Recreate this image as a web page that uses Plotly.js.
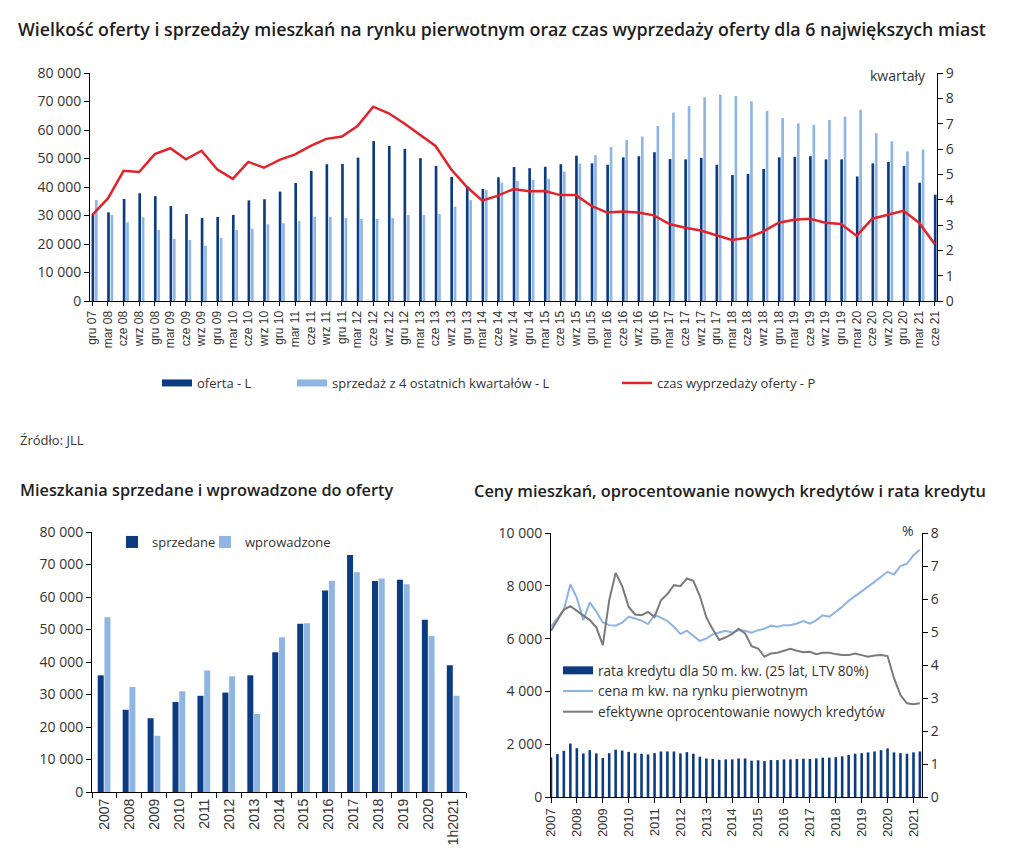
<!DOCTYPE html>
<html><head><meta charset="utf-8">
<script src="https://cdn.plot.ly/plotly-3.0.1.min.js"></script>
<style>html,body{margin:0;padding:0;background:#fff}#chart{width:1021px;height:853px}</style>
</head><body><div id="chart"></div>
<script>
// ---------- Top chart: offer, sales (left) and months to sell (right) ----------
const quarterLabels = ['gru 07','mar 08','cze 08','wrz 08','gru 08','mar 09','cze 09','wrz 09','gru 09','mar 10','cze 10','wrz 10','gru 10','mar 11','cze 11','wrz 11','gru 11','mar 12','cze 12','wrz 12','gru 12','mar 13','cze 13','wrz 13','gru 13','mar 14','cze 14','wrz 14','gru 14','mar 15','cze 15','wrz 15','gru 15','mar 16','cze 16','wrz 16','gru 16','mar 17','cze 17','wrz 17','gru 17','mar 18','cze 18','wrz 18','gru 18','mar 19','cze 19','wrz 19','gru 19','mar 20','cze 20','wrz 20','gru 20','mar 21','cze 21'];
const oferta = [30500,31100,35800,37800,36800,33300,30500,29100,29500,30200,35300,35700,38400,41400,45600,48000,48100,50300,56100,54400,53400,50100,47400,43500,40400,39300,43400,47000,46600,47100,48000,51000,48300,47800,50400,50800,52200,49800,49700,50200,47800,44200,44600,46300,50400,50600,50800,49700,49700,43700,48300,48800,47400,41500,37300];
const sprzedaz4k = [35400,30200,27600,29400,24900,21800,21400,19400,22200,24900,25400,26900,27300,28100,29500,29500,29100,28800,28800,29100,30200,30200,30500,33100,35400,38900,41500,42100,42500,42900,45400,48200,51200,54000,56500,57700,61400,66100,68400,71500,72400,71900,70100,66700,64200,62300,61800,63500,64700,67100,58900,56100,52500,53100,65600];
const czasWyprzedazy = [3.40,4.05,5.14,5.09,5.80,6.03,5.59,5.93,5.20,4.82,5.49,5.26,5.57,5.79,6.12,6.40,6.49,6.91,7.67,7.41,7.01,6.58,6.12,5.20,4.51,3.96,4.16,4.42,4.33,4.34,4.18,4.18,3.75,3.49,3.53,3.49,3.38,3.04,2.89,2.78,2.61,2.41,2.50,2.74,3.09,3.21,3.25,3.09,3.04,2.57,3.25,3.42,3.56,3.09,2.25];

// ---------- Bottom-left: sold and launched flats per year ----------
const years = ['2007','2008','2009','2010','2011','2012','2013','2014','2015','2016','2017','2018','2019','2020','1h2021'];
const sprzedane = [35900,25300,22700,27700,29600,30600,35900,43000,51800,62000,72900,64900,65300,53000,39000];
const wprowadzone = [53800,32300,17300,31000,37400,35600,24000,47600,51900,65000,67600,65700,63900,48000,29600];

// ---------- Bottom-right: quarterly instalment, price per m2, interest rate ----------
const firstYear = 2007, nQuarters = 58;
const quarterDates = [];
for (let i = 0; i < nQuarters; i++) {
  const y = firstYear + Math.floor(i / 4), m = 1 + 3 * (i % 4);
  quarterDates.push(y + '-' + String(m).padStart(2, '0') + '-01');
}
const rataKredytu = [1500,1625,1750,2025,1850,1650,1775,1650,1475,1660,1790,1760,1710,1660,1640,1610,1660,1725,1725,1725,1650,1700,1640,1525,1460,1440,1410,1425,1425,1460,1460,1375,1390,1360,1400,1400,1425,1425,1440,1450,1440,1460,1490,1490,1510,1540,1590,1640,1660,1690,1725,1775,1840,1690,1660,1640,1690,1725];
const cenaM2 = [6450,6760,7080,8060,7540,6700,7370,7020,6610,6510,6490,6600,6830,6760,6680,6550,6890,6790,6660,6450,6170,6300,6100,5910,6010,6160,6230,6300,6220,6320,6300,6220,6320,6370,6490,6450,6510,6510,6570,6660,6570,6700,6880,6830,7020,7200,7430,7610,7770,7960,8150,8340,8530,8430,8750,8840,9160,9370];
const oprocentowanie = [5.04,5.36,5.68,5.78,5.64,5.51,5.36,5.14,4.60,5.96,6.79,6.39,5.76,5.53,5.51,5.61,5.46,5.96,6.15,6.42,6.39,6.62,6.55,6.09,5.44,5.08,4.76,4.84,4.94,5.10,4.96,4.57,4.50,4.25,4.35,4.37,4.42,4.49,4.43,4.39,4.40,4.33,4.37,4.37,4.33,4.30,4.30,4.35,4.30,4.25,4.29,4.30,4.27,3.60,3.09,2.84,2.81,2.84];

// ---------- styling ----------
const W = 1021, H = 853;
const fx = v => v / W, fy = v => 1 - v / H;
const NAVY = '#0b3b80', LIGHT = '#8fb5e3', RED = '#e2232c', GREY = '#7a7a7a', PRICE = '#8db4e2';
const TXT = '#333333';
const FONT = 'Open Sans, Noto Sans, sans-serif';
const ARIAL = 'Liberation Sans, Arial, sans-serif';

const traces = [
  // top
  {type:'bar', name:'oferta - L', x:quarterLabels, y:oferta, xaxis:'x', yaxis:'y', marker:{color:NAVY}, width:0.17, offset:-0.05, showlegend:false, hoverinfo:'y'},
  {type:'bar', name:'sprzedaż z 4 ostatnich kwartałów - L', x:quarterLabels, y:sprzedaz4k, xaxis:'x', yaxis:'y', marker:{color:LIGHT}, width:0.17, offset:0.17, showlegend:false},
  {type:'scatter', mode:'lines', name:'oferta - L', x:[null], y:[null], xaxis:'x', yaxis:'y', line:{color:NAVY, width:7}, legend:'legend', legendwidth:90, hoverinfo:'skip'},
  {type:'scatter', mode:'lines', name:'sprzedaż z 4 ostatnich kwartałów - L', x:[null], y:[null], xaxis:'x', yaxis:'y', line:{color:LIGHT, width:7}, legend:'legend', legendwidth:280, hoverinfo:'skip'},
  {type:'scatter', mode:'lines', name:'czas wyprzedaży oferty - P', x:quarterLabels, y:czasWyprzedazy, xaxis:'x', yaxis:'y2', line:{color:RED, width:2.5}, legend:'legend'},
  // bottom-left
  {type:'bar', name:'sprzedane', x:years, y:sprzedane, xaxis:'x2', yaxis:'y3', marker:{color:NAVY}, width:0.24, offset:-0.27, legend:'legend2', legendwidth:48},
  {type:'bar', name:'wprowadzone', x:years, y:wprowadzone, xaxis:'x2', yaxis:'y3', marker:{color:LIGHT}, width:0.24, offset:0.0, legend:'legend2'},
  // bottom-right
  {type:'bar', name:'rata kredytu dla 50 m. kw. (25 lat, LTV 80%)', x:quarterDates, y:rataKredytu, xaxis:'x3', yaxis:'y4', marker:{color:NAVY}, width:0.1*365.25*86400000, showlegend:false},
  {type:'scatter', mode:'lines', name:'rata kredytu dla 50 m. kw. (25 lat, LTV 80%)', x:[null], y:[null], xaxis:'x3', yaxis:'y4', line:{color:NAVY, width:8}, legend:'legend3', hoverinfo:'skip'},
  {type:'scatter', mode:'lines', name:'cena m kw. na rynku pierwotnym', x:quarterDates, y:cenaM2, xaxis:'x3', yaxis:'y4', line:{color:PRICE, width:2}, legend:'legend3'},
  {type:'scatter', mode:'lines', name:'efektywne oprocentowanie nowych kredytów', x:quarterDates, y:oprocentowanie, xaxis:'x3', yaxis:'y5', line:{color:GREY, width:2}, legend:'legend3'}
];

const axisBase = {showline:true, linecolor:'#000', linewidth:1, ticks:'outside', ticklen:5, tickcolor:'#000', showgrid:false, zeroline:false, fixedrange:true};
const legendBase = {bgcolor:'rgba(0,0,0,0)', font:{family:FONT, size:13, color:TXT}, xref:'paper', yref:'paper', xanchor:'left'};

const layout = {
  width:W, height:H, autosize:false,
  margin:{l:0, r:0, t:0, b:0},
  paper_bgcolor:'#fff', plot_bgcolor:'rgba(0,0,0,0)',
  font:{family:FONT, size:14, color:TXT},
  separators:', ',
  barmode:'overlay',
  title:{text:'Wielkość oferty i sprzedaży mieszkań na rynku pierwotnym oraz czas wyprzedaży oferty dla 6 największych miast',
         x:fx(18), xanchor:'left', xref:'paper', y:fy(30), yanchor:'middle', yref:'paper',
         font:{family:FONT, size:17.8, weight:600, color:'#1e1e1e'}},
  // top
  xaxis:Object.assign({}, axisBase, {domain:[fx(90), fx(937)], anchor:'y', type:'category', range:[-0.15, 54.15],
         tickmode:'array', tickvals:quarterLabels, ticktext:quarterLabels, tickangle:-90, ticklen:4,
         tickfont:{family:ARIAL, size:12, color:TXT}}),
  yaxis:Object.assign({}, axisBase, {domain:[fy(301), fy(73)], anchor:'x', range:[0, 80000], dtick:10000, tickformat:',d'}),
  yaxis2:Object.assign({}, axisBase, {overlaying:'y', side:'right', anchor:'x', range:[0, 9], dtick:1, tickformat:'d'}),
  // bottom-left
  xaxis2:Object.assign({}, axisBase, {domain:[fx(92), fx(466)], anchor:'y3', type:'category', range:[-0.5, 14.5],
         tickson:'boundaries', tickangle:-90, tickfont:{family:ARIAL, size:14, color:TXT}}),
  yaxis3:Object.assign({}, axisBase, {domain:[fy(792), fy(532)], anchor:'x2', range:[0, 80000], dtick:10000, tickformat:',d'}),
  // bottom-right
  xaxis3:Object.assign({}, axisBase, {domain:[fx(551), fx(922)], anchor:'y4', type:'date', range:['2007-01-01', '2021-05-01'],
         tickmode:'linear', tick0:'2007-01-01', dtick:'M12', tickformat:'%Y', tickangle:-90, tickfont:{family:ARIAL, size:13, color:TXT}}),
  yaxis4:Object.assign({}, axisBase, {domain:[fy(797), fy(533)], anchor:'x3', range:[0, 10000], dtick:2000, tickformat:',d'}),
  yaxis5:Object.assign({}, axisBase, {overlaying:'y4', side:'right', anchor:'x3', range:[0, 8], dtick:1, tickformat:'d'}),
  legend:Object.assign({}, legendBase, {orientation:'h', x:fx(157), y:fy(383), yanchor:'middle'}),
  legend2:Object.assign({}, legendBase, {orientation:'h', x:fx(112), y:fy(542), yanchor:'middle'}),
  legend3:Object.assign({}, legendBase, {orientation:'v', x:fx(558), y:fy(655), yanchor:'top', font:{family:FONT, size:13.6, color:TXT}}),
  annotations:[
    {text:'kwartały', xref:'paper', yref:'paper', x:fx(928), y:fy(75), xanchor:'right', yanchor:'middle', showarrow:false, font:{family:FONT, size:14, color:TXT}},
    {text:'Źródło: JLL', xref:'paper', yref:'paper', x:fx(18), y:fy(440), xanchor:'left', yanchor:'middle', showarrow:false, font:{family:FONT, size:13, color:TXT}},
    {text:'Mieszkania sprzedane i wprowadzone do oferty', xref:'paper', yref:'paper', x:fx(18), y:fy(490), xanchor:'left', yanchor:'middle', showarrow:false, font:{family:FONT, size:16.3, weight:600, color:'#1e1e1e'}},
    {text:'Ceny mieszkań, oprocentowanie nowych kredytów i rata kredytu', xref:'paper', yref:'paper', x:fx(472), y:fy(490), xanchor:'left', yanchor:'middle', showarrow:false, font:{family:FONT, size:16.4, weight:600, color:'#1e1e1e'}},
    {text:'%', xref:'paper', yref:'paper', x:fx(908), y:fy(530), xanchor:'center', yanchor:'middle', showarrow:false, font:{family:FONT, size:14, color:TXT}}
  ]
};

Plotly.newPlot('chart', traces, layout, {displayModeBar:false, staticPlot:true});
</script>
</body></html>
